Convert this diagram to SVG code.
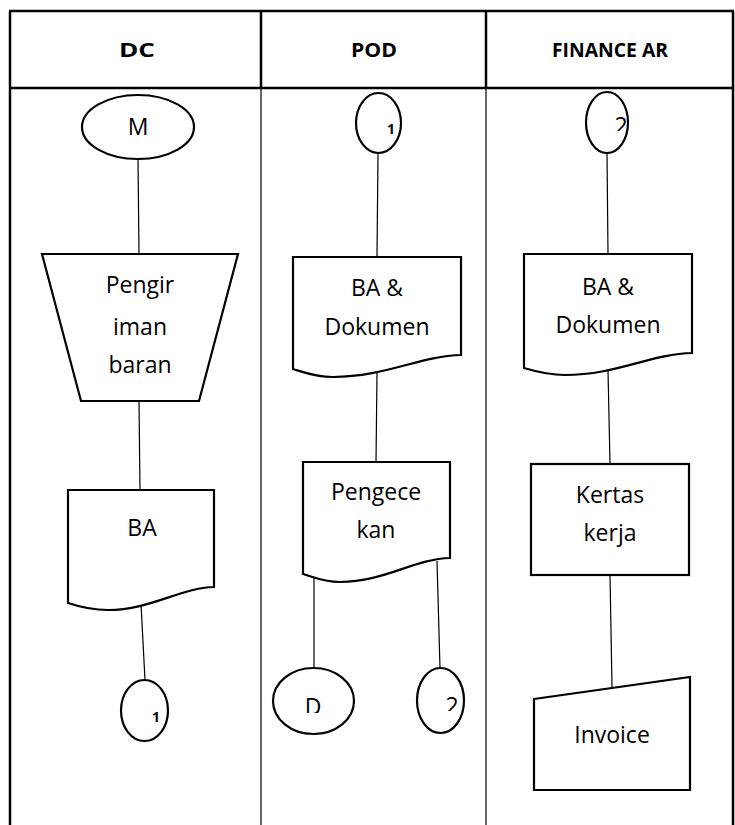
<svg xmlns="http://www.w3.org/2000/svg" width="735" height="825" viewBox="0 0 735 825">
<style>
.frame{stroke:#000;stroke-width:2.5;fill:none}
.thin{stroke:#000;stroke-width:1.2;fill:none}
.shape{stroke:#000;stroke-width:2.2;fill:#fff}
.conn line{stroke:#000;stroke-width:1.2}
.hd{font-family:"Open Sans","Liberation Sans",sans-serif;font-weight:bold;font-size:20px;text-anchor:middle;fill:#000}
.lb{font-family:"Open Sans","Liberation Sans",sans-serif;font-size:23px;text-anchor:middle;fill:#000}
.sm{font-family:"Open Sans","Liberation Sans",sans-serif;font-weight:bold;font-size:14px;text-anchor:middle;fill:#000}
</style>
<defs>
<clipPath id="cD"><rect x="290" y="690" width="50" height="23"/></clipPath>
<clipPath id="c2a"><rect x="440" y="690" width="30" height="21"/></clipPath>
<clipPath id="c2b"><rect x="605" y="110" width="30" height="21"/></clipPath>
</defs>
<rect width="735" height="825" fill="#fff"/>
<g id="frame">
<line class="frame" x1="9" y1="11" x2="734" y2="11"/>
<line class="frame" x1="9" y1="88" x2="734" y2="88"/>
<line class="frame" x1="10" y1="11" x2="10" y2="825"/>
<line class="frame" x1="733" y1="11" x2="733" y2="825"/>
<line class="frame" x1="261" y1="11" x2="261" y2="88"/>
<line class="frame" x1="486" y1="11" x2="486" y2="88"/>
<line class="thin" x1="261" y1="88" x2="261" y2="825"/>
<line class="thin" x1="486" y1="88" x2="486" y2="825"/>
<text class="hd" x="137" y="57" textLength="36" lengthAdjust="spacingAndGlyphs">DC</text>
<text class="hd" x="374" y="57" textLength="46" lengthAdjust="spacingAndGlyphs">POD</text>
<text class="hd" x="610" y="57" textLength="116" lengthAdjust="spacingAndGlyphs">FINANCE AR</text>
</g>
<g id="connectors" class="conn">
<line x1="138" y1="159" x2="139" y2="254"/>
<line x1="139" y1="401" x2="140" y2="490"/>
<line x1="141" y1="604" x2="145" y2="680"/>
<line x1="378" y1="153" x2="377" y2="257"/>
<line x1="377" y1="372" x2="376" y2="462"/>
<line x1="314" y1="578" x2="314" y2="668"/>
<line x1="437" y1="561" x2="440" y2="668"/>
<line x1="607" y1="153" x2="608" y2="254"/>
<line x1="608" y1="370" x2="610" y2="464"/>
<line x1="610" y1="575" x2="612" y2="687"/>
</g>
<g id="dc-start">
<ellipse class="shape" cx="138" cy="127" rx="56" ry="32"/>
<text class="lb" x="138" y="135">M</text>
</g>
<g id="dc-pengiriman">
<polygon class="shape" points="42,254 238,254 199,401 81,401"/>
<text class="lb" x="140" y="293">Pengir</text>
<text class="lb" x="140" y="335">iman</text>
<text class="lb" x="140" y="373">baran</text>
</g>
<g id="dc-ba">
<path class="shape" d="M68,490 H214 V587 C180,588 150,610 108,610 C92,610 80,607 68,603 Z"/>
<text class="lb" x="142" y="536">BA</text>
</g>
<g id="dc-conn1">
<ellipse class="shape" cx="144.5" cy="710.5" rx="23.5" ry="30.5"/>
<text class="sm" x="156" y="722">1</text>
</g>
<g id="pod-conn1">
<ellipse class="shape" cx="378.5" cy="123" rx="22.5" ry="30"/>
<text class="sm" x="391" y="134">1</text>
</g>
<g id="pod-dokumen">
<path class="shape" d="M293,257 H461 V355 C420,356 385,377 333,377 C315,377 303,372 293,369 Z"/>
<text class="lb" x="377" y="296">BA &amp;</text>
<text class="lb" x="377" y="335">Dokumen</text>
</g>
<g id="pod-pengecekan">
<path class="shape" d="M303,462 H450 V558 C414,559 384,582 340,582 C324,582 313,577 303,574 Z"/>
<text class="lb" x="376" y="500">Pengece</text>
<text class="lb" x="376" y="538">kan</text>
</g>
<g id="pod-d">
<ellipse class="shape" cx="313.5" cy="701" rx="40.5" ry="33"/>
<text class="lb" x="313" y="715" font-size="21" clip-path="url(#cD)">D</text>
</g>
<g id="pod-conn2">
<ellipse class="shape" cx="440.5" cy="700.5" rx="23.5" ry="32.5"/>
<text class="lb" x="452" y="714" font-size="20" clip-path="url(#c2a)">2</text>
</g>
<g id="fin-conn2">
<ellipse class="shape" cx="607" cy="122.5" rx="21" ry="30.5"/>
<text class="lb" x="621" y="134" font-size="15" clip-path="url(#c2b)">2</text>
</g>
<g id="fin-dokumen">
<path class="shape" d="M524,254 H692 V353 C651,354 616,375 565,375 C546,375 534,371 524,368 Z"/>
<text class="lb" x="608" y="295">BA &amp;</text>
<text class="lb" x="608" y="333">Dokumen</text>
</g>
<g id="fin-kertas">
<rect class="shape" x="531" y="464" width="158" height="111"/>
<text class="lb" x="610" y="503">Kertas</text>
<text class="lb" x="610" y="541">kerja</text>
</g>
<g id="fin-invoice">
<polygon class="shape" points="534,699 690,677 690,790 534,790"/>
<text class="lb" x="612" y="743">Invoice</text>
</g>
</svg>
